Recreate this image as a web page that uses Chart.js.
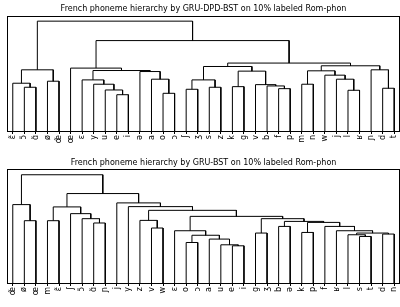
<!DOCTYPE html>
<html>
<head>
<meta charset="utf-8">
<script src="https://cdn.jsdelivr.net/npm/chart.js@4/dist/chart.umd.min.js"></script>
<style>
  body { margin: 0; background: #fff; }
  canvas { position: absolute; left: 0; }
  #topTree { top: 0; }
  #bottomTree { top: 152px; }
</style>
</head>
<body>
<canvas id="topTree" width="400" height="152"></canvas>
<canvas id="bottomTree" width="400" height="155"></canvas>
<script>
// Leaf order (left to right) for each dendrogram
const topLabels = ["ɛ̃", "ɔ̃", "ɑ̃", "ø", "œ̃", "œ", "ɛ", "y", "u", "e", "i", "ə", "a", "o", "ɔ",
  "ʃ", "ʒ", "s", "z", "k", "g", "v", "b", "f", "p", "m", "n", "w", "j", "l", "ʁ", "ɲ", "d", "t"];
const bottomLabels = ["œ̃", "ø", "œ", "m", "ɛ̃", "ʃ", "ɔ̃", "ɑ̃", "ɲ", "j", "y", "z", "v", "w", "ɛ", "o", "ɔ",
  "a", "u", "e", "i", "g", "ʒ", "b", "ə", "k", "p", "f", "ʁ", "l", "s", "t", "d", "n"];

// Merges: [childA, childB, height]; ids < 34 are leaves, id 34+k is merge k
const topMerges = [
  [9, 10, 37.0], [13, 14, 38.4], [29, 30, 41.4], [8, 34, 41.7], [15, 16, 42.4],
  [23, 24, 43.0], [32, 33, 43.4], [1, 2, 44.4], [17, 18, 44.4], [19, 20, 45.0],
  [22, 39, 45.7], [21, 44, 47.0], [7, 37, 47.4], [25, 26, 47.4], [0, 41, 48.4],
  [3, 4, 50.4], [6, 46, 51.7], [38, 42, 51.7], [12, 35, 52.4], [28, 36, 52.4],
  [27, 53, 56.4], [11, 52, 60.0], [43, 45, 60.4], [47, 54, 60.7], [50, 55, 61.0],
  [48, 49, 61.7], [31, 40, 61.7], [5, 58, 63.4], [51, 56, 65.0], [57, 60, 65.7],
  [62, 63, 68.4], [61, 64, 90.7], [59, 65, 110.0]
];
const bottomMerges = [
  [19, 20, 38.0], [18, 34, 39.0], [15, 16, 41.3], [17, 35, 44.7], [30, 31, 47.3],
  [36, 37, 48.5], [29, 38, 49.0], [32, 33, 49.7], [21, 22, 50.7], [40, 41, 50.7],
  [25, 26, 51.3], [14, 39, 53.0], [28, 43, 53.0], [12, 13, 55.7], [23, 24, 57.3],
  [27, 46, 57.3], [7, 8, 60.7], [44, 49, 61.3], [48, 51, 62.3], [1, 2, 63.0],
  [3, 4, 63.0], [11, 47, 63.3], [6, 50, 65.0], [42, 52, 65.0], [45, 57, 67.3],
  [5, 56, 70.0], [55, 58, 73.3], [54, 59, 76.7], [10, 60, 77.0], [0, 53, 79.0],
  [9, 62, 80.7], [61, 64, 90.0], [63, 65, 108.7]
];

// draws the axes box like matplotlib spines
const framePlugin = {
  id: "frame",
  afterDraw(chart) {
    const { ctx, chartArea: a } = chart;
    ctx.save();
    ctx.strokeStyle = "#000";
    ctx.lineWidth = 1;
    ctx.strokeRect(Math.round(a.left) + 0.5, Math.round(a.top) + 0.5,
      Math.round(a.right - a.left) - 1, Math.round(a.bottom - a.top) - 1);
    ctx.restore();
  },
};

// U-shaped links, leaves sit at 5, 15, 25 ... like scipy
function buildLinks(merges, n) {
  const xs = [];
  const ys = [];
  for (let i = 0; i < n; i++) {
    xs.push(5 + 10 * i);
    ys.push(0);
  }
  return merges.map(([a, b, h]) => {
    const pts = [
      { x: xs[a], y: ys[a] },
      { x: xs[a], y: h },
      { x: xs[b], y: h },
      { x: xs[b], y: ys[b] },
    ];
    xs.push((xs[a] + xs[b]) / 2);
    ys.push(h);
    return pts;
  });
}

function drawTree(canvasId, title, labels, merges, titlePad, axisHeight) {
  const n = labels.length;
  const links = buildLinks(merges, n);
  const maxH = Math.max(...merges.map((m) => m[2]));
  new Chart(document.getElementById(canvasId).getContext("2d"), {
    type: "scatter",
    data: {
      datasets: links.map((pts) => ({
        data: pts,
        showLine: true,
        borderColor: "#000",
        borderWidth: 1,
        pointRadius: 0,
        fill: false,
      })),
    },
    options: {
      responsive: false,
      animation: false,
      devicePixelRatio: 1,
      layout: { padding: { left: 7, right: 0, top: 0, bottom: 0 } },
      scales: {
        x: {
          type: "linear",
          min: 0,
          max: 10 * n,
          afterBuildTicks: (scale) => {
            scale.ticks = labels.map((_, i) => ({ value: 5 + 10 * i }));
          },
          afterFit: (scale) => {
            scale.height = axisHeight;
            // no extra room for the rotated end labels, box runs to the edge
            scale.paddingLeft = 0;
            scale.paddingRight = 0;
          },
          grid: { drawOnChartArea: false, drawTicks: true, tickLength: 2, color: "#000" },
          border: { display: false },
          ticks: {
            autoSkip: false,
            minRotation: 90,
            maxRotation: 90,
            padding: 1,
            color: "#000",
            font: { family: "DejaVu Sans", size: 8 },
            callback: (v) => labels[Math.round((v - 5) / 10)],
          },
        },
        y: { display: false, min: 0, max: maxH * 1.05 },
      },
      plugins: {
        legend: { display: false },
        tooltip: { enabled: false },
        title: {
          display: true,
          text: title,
          color: "#000",
          padding: titlePad,
          font: { family: "DejaVu Sans", size: 8, weight: "normal", lineHeight: 1.2 },
        },
      },
    },
    plugins: [framePlugin],
  });
}

document.addEventListener("DOMContentLoaded", function () {
  drawTree("topTree", "French phoneme hierarchy by GRU-DPD-BST on 10% labeled Rom-phon",
    topLabels, topMerges, { top: 4, bottom: 2 }, 20);
  drawTree("bottomTree", "French phoneme hierarchy by GRU-BST on 10% labeled Rom-phon",
    bottomLabels, bottomMerges, { top: 6, bottom: 1.7 }, 23);
});
</script>
</body>
</html>
